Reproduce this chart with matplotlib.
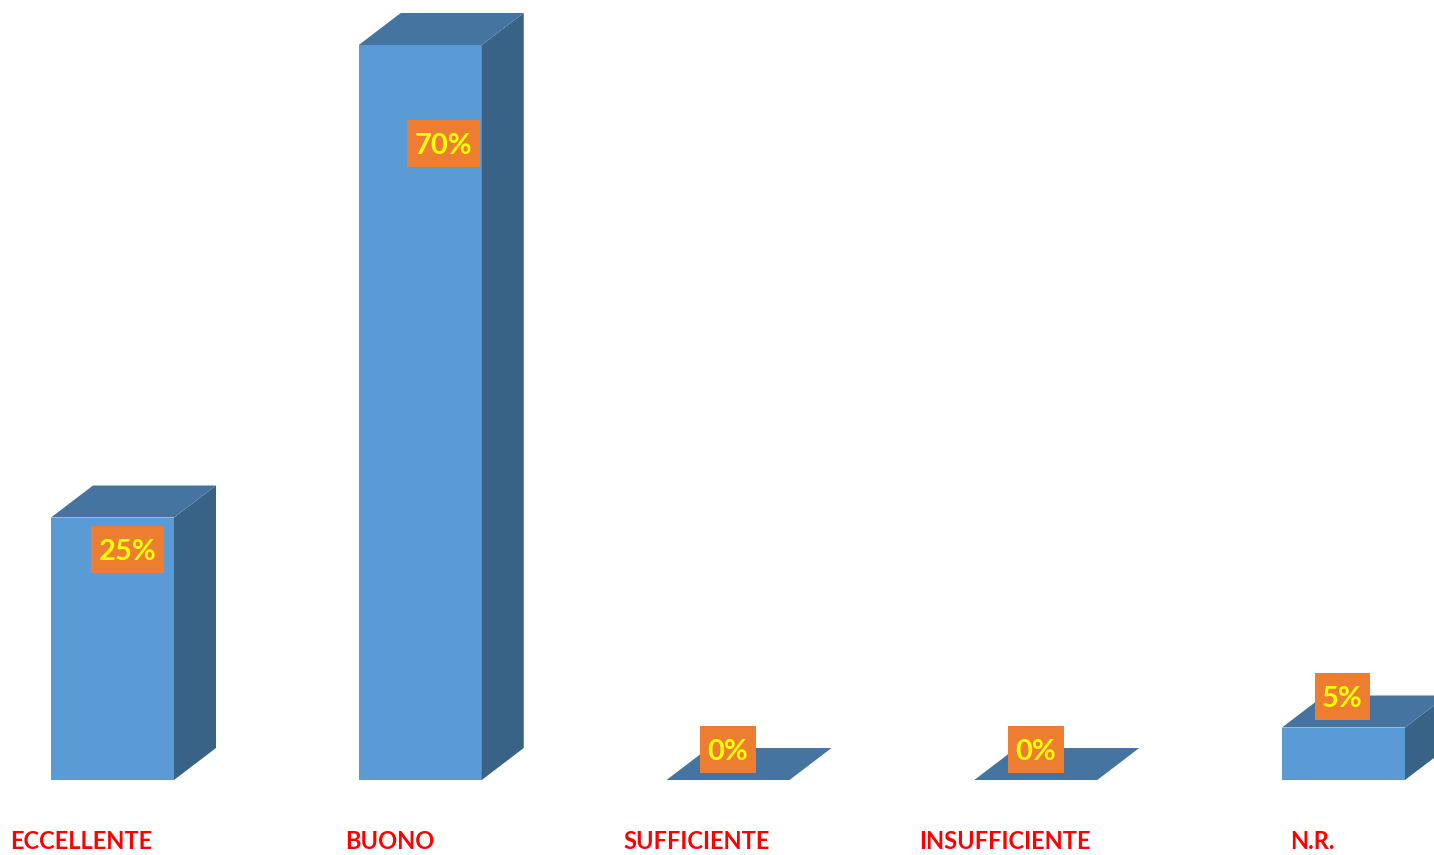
import matplotlib
matplotlib.use("Agg")
import matplotlib.pyplot as plt
from matplotlib.patches import Polygon, Rectangle

categories = ["ECCELLENTE", "BUONO", "SUFFICIENTE", "INSUFFICIENTE", "N.R."]
values = [25, 70, 0, 0, 5]
value_labels = ["25%", "70%", "0%", "0%", "5%"]

# layout (pixel-derived) settings
W, H = 1434, 855
fig = plt.figure(figsize=(W / 100, H / 100), dpi=100)
ax = fig.add_axes([0, 0, 1, 1])
px_cat = 307.75           # pixels per category
px_val = 10.5             # pixels per percent
x0_px = 112.5             # centre of first bar front (pixels)
base_px = 780             # baseline from top (pixels)
ax.set_xlim(-x0_px / px_cat, (W - x0_px) / px_cat)
ax.set_ylim(-(H - base_px) / px_val, base_px / px_val)
ax.axis("off")

bw = 123 / px_cat / 2     # half width
dx = 42 / px_cat
dy = 32 / px_val

front_c = "#5B9BD5"
top_c = "#44749F"
side_c = "#386286"

for i, v in enumerate(values):
    l, r = i - bw, i + bw
    if v > 0:
        ax.add_patch(Polygon([(l, 0), (r, 0), (r, v), (l, v)], closed=True,
                             fc=front_c, ec="none", zorder=2))
        ax.add_patch(Polygon([(r, 0), (r + dx, dy), (r + dx, v + dy), (r, v)],
                             closed=True, fc=side_c, ec="none", zorder=2))
    ax.add_patch(Polygon([(l, v), (r, v), (r + dx, v + dy), (l + dx, v + dy)],
                         closed=True, fc=top_c, ec="none", zorder=2))

# category labels
for i, c in enumerate(categories):
    ax.text(i - 31 / px_cat, -61 / px_val, c, ha="center", va="center",
            color="#FF0000", fontsize=17, fontweight="bold", family="Lato")

# value labels (offsets in pixels from bar front centre / top of figure)
lab_dx = [15, 23, 0, 0, -1]
lab_y = [549.5, 143.5, 749.5, 749.5, 696.5]
renderer = fig.canvas.get_renderer()
for i, (v, t) in enumerate(zip(values, value_labels)):
    xc = i + lab_dx[i] / px_cat
    yc = (base_px - lab_y[i]) / px_val
    txt = ax.text(xc, yc - 2.5 / px_val, t, ha="center", va="center",
                  color="#FFFF00", fontsize=21, fontweight="bold",
                  family="Lato", zorder=5)
    ext = txt.get_window_extent(renderer)
    bw_px = ext.width + 15
    bh_px = 47
    ax.add_patch(Rectangle((xc - bw_px / 2 / px_cat, yc - bh_px / 2 / px_val),
                           bw_px / px_cat, bh_px / px_val,
                           fc="#ED7D31", ec="none", zorder=4))

fig.savefig("out.png", dpi=100)
